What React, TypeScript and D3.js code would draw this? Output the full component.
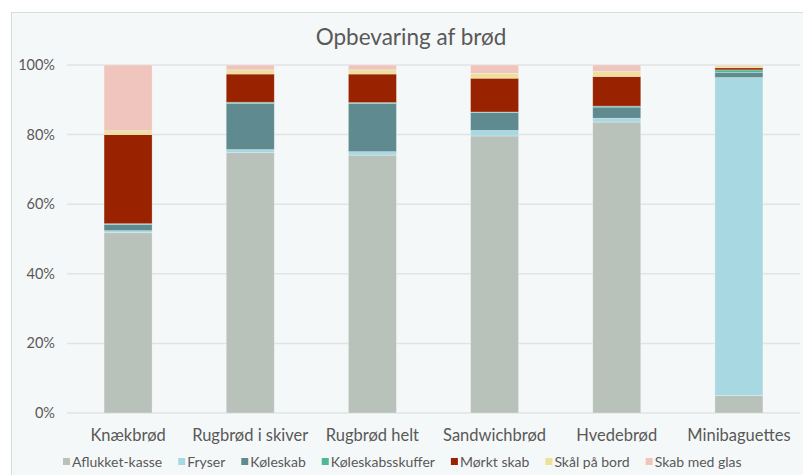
import React, { useEffect, useRef } from "react";
import * as d3 from "d3";

const categories = ["Knækbrød", "Rugbrød i skiver", "Rugbrød helt", "Sandwichbrød", "Hvedebrød", "Minibaguettes"];
const seriesNames = ["Aflukket-kasse", "Fryser", "Køleskab", "Køleskabsskuffer", "Mørkt skab", "Skål på bord", "Skab med glas"];
const seriesColors = ["#b8c2bb", "#a8d9e3", "#5f8a8f", "#4fb896", "#992200", "#eedf9a", "#f0c5be"];

// share (%) per category, one array per storage type
const aflukketKasse = [51.8, 74.8, 74.1, 79.6, 83.6, 5.0];
const fryser = [0.6, 0.9, 1.0, 1.6, 1.1, 91.4];
const koeleskab = [1.8, 13.3, 13.8, 5.2, 3.2, 1.5];
const koeleskabsskuffer = [0.2, 0.3, 0.3, 0.1, 0.3, 0.7];
const moerktSkab = [25.6, 8.1, 8.2, 9.7, 8.5, 0.6];
const skaalPaaBord = [1.1, 1.2, 1.2, 1.4, 1.4, 0.6];
const skabMedGlas = [18.9, 1.4, 1.4, 2.4, 1.9, 0.2];

const yTicks = [0, 20, 40, 60, 80, 100];
const title = "Opbevaring af brød";

const W = 803;
const H = 475;
const FONT = "Lato, 'Open Sans', sans-serif";
const TEXT = "#595959";

export default function App() {
  const ref = useRef<SVGSVGElement>(null);

  useEffect(() => {
    const svg = d3.select(ref.current);
    svg.selectAll("*").remove();

    const values = [aflukketKasse, fryser, koeleskab, koeleskabsskuffer, moerktSkab, skaalPaaBord, skabMedGlas];
    const rows = categories.map((c, i) => {
      const r: any = { cat: c };
      seriesNames.forEach((s, j) => (r[s] = values[j][i]));
      return r;
    });
    const stacked = d3.stack<any>().keys(seriesNames)(rows);

    const x = d3.scaleBand<string>().domain(categories).range([67, 800]).paddingInner(0.607).paddingOuter(0.3035);
    const y = d3.scaleLinear().domain([0, 100]).range([413, 65]);

    // chart frame
    svg.append("rect").attr("x", 11.5).attr("y", 12.5).attr("width", 820).attr("height", 480)
      .attr("fill", "#f5f8f8").attr("stroke", "#d9dcdc").attr("stroke-width", 1);

    // title
    svg.append("text").attr("x", 411).attr("y", 45).attr("text-anchor", "middle")
      .attr("font-family", FONT).attr("font-size", 22.5).attr("fill", TEXT).text(title);

    // gridlines + y labels
    const g = svg.append("g");
    yTicks.forEach((t) => {
      g.append("line").attr("x1", 67).attr("x2", 800).attr("y1", y(t)).attr("y2", y(t))
        .attr("stroke", "#e1e4e4").attr("stroke-width", 1.5);
      g.append("text").attr("x", 55).attr("y", y(t)).attr("dy", "0.35em").attr("text-anchor", "end")
        .attr("font-family", FONT).attr("font-size", 14.5).attr("fill", TEXT).text(`${t}%`);
    });

    // stacked bars
    const bars = svg.append("g");
    stacked.forEach((layer, j) => {
      bars.append("g").attr("fill", seriesColors[j])
        .selectAll("rect").data(layer).join("rect")
        .attr("x", (d: any) => x(d.data.cat)!)
        .attr("width", x.bandwidth())
        .attr("y", (d: any) => y(d[1]))
        .attr("height", (d: any) => y(d[0]) - y(d[1]))
        .attr("stroke", "#ffffff").attr("stroke-opacity", 0.35).attr("stroke-width", 0.75);
    });

    // category labels
    categories.forEach((c) => {
      svg.append("text").attr("x", x(c)! + x.bandwidth() / 2).attr("y", 441).attr("text-anchor", "middle")
        .attr("font-family", FONT).attr("font-size", 16.5).attr("fill", TEXT).text(c);
    });

    // legend, laid out left to right from measured text widths
    const leg = svg.append("g");
    const gap = 16;
    let cx = 63;
    seriesNames.forEach((s, j) => {
      const gi = leg.append("g").attr("transform", `translate(${cx},462)`);
      gi.append("rect").attr("x", 0).attr("y", -4).attr("width", 7).attr("height", 7).attr("fill", seriesColors[j]);
      const t = gi.append("text").attr("x", 9).attr("y", 0).attr("dy", "0.35em")
        .attr("font-family", FONT).attr("font-size", 14).attr("fill", TEXT).text(s);
      cx += 9 + (t.node() as SVGTextElement).getComputedTextLength() + gap;
    });
  }, []);

  return (
    <svg ref={ref} width={W} height={H} style={{ position: "absolute", left: 0, top: 0, background: "#ffffff" }} />
  );
}
